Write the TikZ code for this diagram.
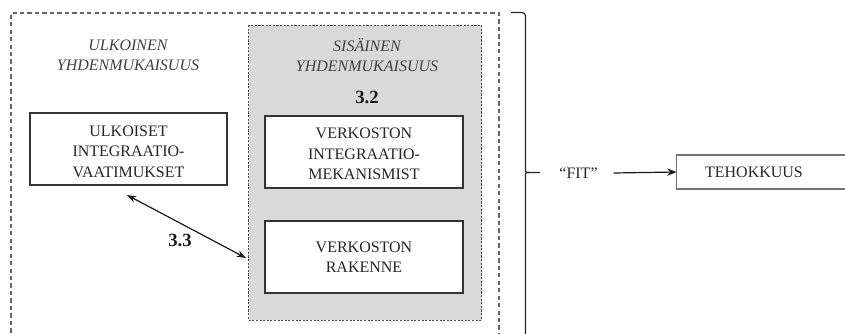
\documentclass[tikz,border=0pt]{standalone}
\usepackage{fontspec}
\setmainfont{Liberation Serif}
\usetikzlibrary{arrows.meta}
\begin{document}
\begin{tikzpicture}[x=0.75pt,y=-0.75pt,
  every node/.style={inner sep=0pt, outer sep=0pt},
  txt/.style={font=\fontsize{12}{15.4}\selectfont, align=center, text=black!85},
  ttl/.style={font=\fontsize{12}{15}\selectfont\itshape, align=center, text=black!75},
  num/.style={font=\fontsize{14}{16}\selectfont\bfseries, text=black!90},
  whitebox/.style={draw=black!80, line width=1.3pt, fill=white},
  outerframe/.style={draw=black!60, line width=1.1pt, dash pattern=on 3.2pt off 2.4pt},
  innerframe/.style={draw=black!70, line width=0.6pt, fill=black!15, dash pattern=on 1.6pt off 1.1pt},
  bracepath/.style={draw=black!85, line width=0.9pt},
  link/.style={draw=black!90, line width=0.9pt}
]
\clip (0,0) rectangle (845,333);

% outer frame (open at the bottom edge)
\draw[outerframe] (11,340) -- (11,13) -- (499,13) -- (499,340);

% inner shaded region
\draw[innerframe] (248.5,25) rectangle (481.5,320);

% headings
\node[ttl] (ext) at (128,55) {ULKOINEN\\YHDENMUKAISUUS};
\node[ttl] (int) at (367,55) {SISÄINEN\\YHDENMUKAISUUS};
\node[num] (n32) at (367,97) {3.2};

% boxes
\draw[whitebox] (30,113) rectangle (227,185);
\node[txt] (ulk) at (128.5,151.5) {ULKOISET\\INTEGRAATIO-\\VAATIMUKSET};
\draw[whitebox] (265,116) rectangle (463,188);
\node[txt] (mek) at (364,154) {VERKOSTON\\INTEGRAATIO-\\MEKANISMIST};
\draw[whitebox] (265,221) rectangle (463,293);
\node[txt] (rak) at (364,257) {VERKOSTON\\RAKENNE};

% 3.3 link
\coordinate (p1) at (127,195);
\coordinate (p2) at (246,258);
\draw[link, {Stealth[length=7pt,width=5pt]}-{Stealth[length=7pt,width=5pt]}] (p1) -- (p2);
\node[num] (n33) at (180,240) {3.3};

% right brace
\draw[bracepath] (511,12.5) -- (522,12.5) to[out=0,in=90] (525.5,16) -- (525.5,169)
  .. controls (525.5,172.5) .. (529,172.5) -- (540,172.5);
\draw[bracepath] (529,172.5) .. controls (525.5,172.5) .. (525.5,176) -- (525.5,340);

% result
\node[font=\fontsize{12}{14}\selectfont, text=black!85] (fit) at (578.5,173) {“FIT”};
\node[draw=black!55, line width=1.2pt, minimum width=200pt, minimum height=25.5pt, anchor=west,
      font=\fontsize{12}{14}\selectfont, text=black!85] (teho) at (676.5,172) {};
\node[font=\fontsize{12}{14}\selectfont, text=black!85] (tehot) at (754,172.5) {TEHOKKUUS};
\draw[link, -{Stealth[length=7pt,width=5.5pt]}] (fit.east) ++(16,0) coordinate (f1) (f1) -- (teho.west);
\end{tikzpicture}
\end{document}
